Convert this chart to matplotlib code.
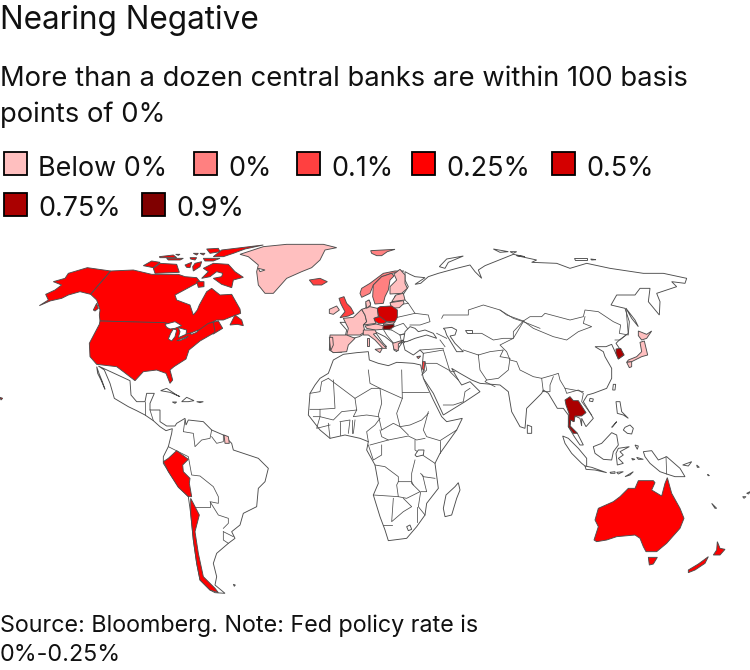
import matplotlib
matplotlib.use('Agg')
import matplotlib.pyplot as plt
from matplotlib.patches import Polygon, Rectangle

plt.rcParams['font.family'] = ['Inter', 'DejaVu Sans']

title = 'Nearing Negative'
subtitle = ['More than a dozen central banks are within 100 basis', 'points of 0%']
source = ['Source: Bloomberg. Note: Fed policy rate is', '0%-0.25%']

legend_labels = ['Below 0%', '0%', '0.1%', '0.25%', '0.5%', '0.75%', '0.9%']
legend_colors = ['#ffbfbf', '#ff8080', '#ff4040', '#ff0000', '#d40000', '#aa0000', '#7f0000']
rate = dict(zip(legend_labels, legend_colors))

Z1 = (0, 235)
Z2 = (300, 235)
Z3 = (500, 245)
Z4 = (100, 400)
Z5 = (300, 370)
Z6 = (560, 440)
Z8 = (540, 390)
Z9 = (320, 260)
Z10 = (95, 360)
Z11 = (400, 300)


def px(origin, pts):
    return [(origin[0] + a / 3, origin[1] + b / 3) for a, b in pts]


eurasia = (
    px(Z2, [(88,345),(90,305),(135,307),(140,285),(120,262),(150,262),(170,245),(190,225),(198,218),(198,205),(205,195),
            (212,205),(208,218),(233,222),(275,213),(272,205),(280,198),(285,183),(310,178),(325,155),(315,135),(315,110),
            (330,118),(345,125),(375,128),(345,148),(362,145),(385,125),(415,115),(470,100),(510,90),(525,110),(545,130),
            (535,105),(555,92),(590,78),(640,58),(675,65)])
    + px(Z3, [(50,32),(110,45),(95,52),(170,55),(210,70),(260,55),(330,70),(430,85),(490,85),(560,100),(555,115),(515,110),(530,125),
              (470,145),(480,170),(478,210),(445,170),(450,130),(420,130),(405,150),(350,150),(333,180),(375,190),(388,230),
              (385,265),(358,285),(348,295),(372,330),(355,342),(345,320),(335,298),(318,305),(285,305),(310,320),(315,335),
              (335,370),(335,400),(320,430),(280,445),(262,450),(250,470),(280,520),(258,545),(245,520)])
    + px(Z8, [(125,108),(120,85),(105,78),(102,95),(92,90),(90,108),(112,130),(130,165),(120,165),(103,140),(85,110),(85,75),
              (70,55),(52,55),(25,10),(10,0)])
    + px(Z3, [(125,445),(80,490),(75,550),(60,545),(35,500),(25,440)])
    + px(Z5, [(625,65),(600,45),(540,40),(515,30),(480,10),(455,-5),(475,30),(485,45),(510,35),(540,65),(495,95),(430,135),
              (400,70),(370,25)])
    + px(Z11, [(65,225),(72,212),(68,185),(70,160),(60,150),(40,165),(15,150),(10,130)])
    + px(Z2, [(320,315),(310,318),(298,335),(290,350),(282,345),(280,325),(255,305),(225,290),(250,325),(260,335),(248,335),
              (225,310),(205,295),(195,295),(178,305),(150,312),(130,335),(125,352),(100,352)])
)

africa = (
    px(Z2, [(362,390),(340,385),(310,383),(290,382),(265,392),(235,385),(208,375),(205,350),(170,353),(130,358),(100,375),
            (85,415),(60,430),(45,450)])
    + px(Z5, [(30,70),(25,135),(60,180),(90,205),(135,195),(180,205),(205,215),(200,240),(225,285),(235,340),(220,375),
              (240,440),(255,480),(265,512),(320,505),(350,470),(375,435),(380,400),(415,355),(405,280),(420,250),(470,180),
              (487,145),(440,155),(425,140),(400,90),(370,25)])
)

latin_america = (
    px(Z10, [(10,18),(28,30),(45,70),(58,115),(100,140),(125,152),(150,165),(175,182),(195,200),(213,212),(232,206)])
    + px(Z4, [(215,100),(205,140),(190,170),(190,190),(235,260),(265,290),(272,340),(280,420),(290,490),(300,540),(330,570),
              (345,578),(375,580),(345,555),(350,530),(340,490),(350,460),(385,430),(405,415),(395,395),(420,375),(430,340),
              (470,320),(475,265),(495,245),(505,205),(475,175),(415,155),(400,150),(395,130),(370,105),(335,90),(310,65),
              (265,60),(258,75),(255,55),(230,70)])
    + px(Z10, [(240,198),(215,198),(195,185),(195,150),(165,150),(165,130),(178,100),(155,100),(150,125),(125,125),(108,105),(105,62)])
)

white_land = [
    eurasia, africa, latin_america,
    px(Z10, [(5,20),(12,40),(22,65),(30,88),(18,60),(8,40)]),  # baja
    px(Z10, [(197,92),(215,85),(245,105),(255,110),(225,97)]),  # cuba
    px(Z10, [(260,125),(275,112),(297,122),(280,125)]),
    px(Z10, [(232,126),(245,126),(240,130)]),
    px(Z10, [(305,125),(325,125),(315,128)]),
    px(Z5, [(475,338),(480,360),(470,385),(455,435),(435,440),(430,415),(438,375),(465,350)]),  # madagascar
    px(Z3, [(378,190),(405,225),(415,245),(395,220)]),  # sakhalin
    px(Z3, [(340,418),(347,418),(345,435),(338,435)]),
    px(Z3, [(270,460),(280,462),(278,470),(268,468)]),
    px(Z3, [(82,540),(95,545),(95,565),(82,565)]),  # sri lanka
    px(Z3, [(222,40),(260,40),(260,46),(225,46)]),
    px(Z3, [(272,42),(288,44),(275,45)]),
    px(Z2, [(418,95),(440,72),(490,63),(445,82),(435,100)]),  # novaya zemlya
    px(Z2, [(580,42),(625,50),(600,52)]),
    px(Z2, [(630,50),(650,50),(640,55)]),
    px(Z8, [(68,138),(85,145),(115,175),(140,205),(140,232),(125,220),(95,190),(75,160)]),  # sumatra
    px(Z8, [(135,228),(155,232),(200,248),(165,240),(138,238)]),
    px(Z8, [(160,170),(185,160),(215,128),(230,135),(235,165),(220,185),(215,210),(190,208),(165,190)]),  # borneo
    px(Z8, [(235,175),(268,170),(240,185),(250,195),(235,205),(250,220),(232,225),(228,190)]),
    px(Z8, [(228,35),(240,35),(245,65),(265,85),(250,75),(232,70)]),
    px(Z8, [(255,112),(270,105),(280,115),(275,132),(262,130),(250,120)]),
    px(Z8, [(215,112),(230,95),(218,110)]),
    px(Z6, [(250,35),(275,32),(295,60),(320,50),(360,85),(375,110),(345,110),(320,102),(300,95),(270,70),(255,50)]),  # new guinea
    px(Z6, [(150,97),(165,95),(165,100),(152,100)]),
    px(Z6, [(170,97),(190,95),(175,102)]),
    px(Z6, [(195,110),(220,95),(210,105)]),
    px(Z6, [(225,15),(235,18),(232,28)]),
    px(Z6, [(230,52),(250,58),(235,58)]),
    px(Z6, [(215,55),(225,58),(218,60)]),
    px(Z6, [(368,75),(395,65),(385,78)]),
    px(Z6, [(410,75),(418,82),(412,82)]),
    px(Z6, [(443,103),(448,107),(444,107)]),
    px(Z6, [(455,190),(470,205),(465,205)]),
    px(Z6, [(548,170),(558,170),(552,175)]),
    px(Z6, [(560,160),(570,155),(566,162)]),
    px(Z4, [(400,553),(406,555),(403,559)]),
]

great_lakes = [
    px(Z1, [(495,268),(525,260),(545,272),(525,280),(510,282),(500,277)]),
    px(Z1, [(520,282),(530,285),(525,305),(515,318),(505,312),(512,295)]),
    px(Z1, [(535,278),(560,285),(558,298),(535,308),(540,290)]),
    px(Z1, [(530,317),(565,303),(560,308),(540,317)]),
    px(Z1, [(570,295),(595,285),(590,292),(575,298)]),
]

inland_water = [
    px(Z11, [(130,85),(155,82),(170,90),(165,105),(150,108),(165,130),(190,155),(170,155),(155,130),(140,105),(135,90)]),  # caspian
    px(Z11, [(195,90),(215,90),(215,100),(200,100)]),
    px(Z11, [(15,95),(30,80),(45,85),(55,95),(75,90),(100,100),(110,115),(80,105),(45,115),(20,125),(10,125)]),  # black sea
    px(Z5, [(345,255),(355,240),(372,240),(370,255),(350,260)]),
    px(Z5, [(320,470),(330,465),(335,478),(325,482)]),
    px(Z1, [(775,100),(795,105),(780,110)]),
]

borders = [
    # africa
    px(Z5, [(30,70),(60,65),(65,35),(85,25)]),
    px(Z5, [(85,25),(165,85),(170,120)]),
    px(Z5, [(100,30),(105,115),(60,118),(30,118)]),
    px(Z5, [(60,118),(60,140),(100,150),(125,125),(170,120)]),
    px(Z5, [(205,0),(210,40),(240,55),(245,100),(235,135),(245,180)]),
    px(Z5, [(165,85),(215,55),(240,55),(307,85)]),
    px(Z5, [(305,0),(307,85),(290,130),(300,170),(325,195)]),
    px(Z5, [(307,67),(385,67)]),
    px(Z5, [(170,120),(160,140),(200,135),(235,140)]),
    px(Z5, [(165,150),(160,190)]),
    px(Z5, [(240,145),(225,165),(200,185),(205,215)]),
    px(Z5, [(240,180),(245,200),(265,210),(210,225)]),
    px(Z5, [(245,180),(280,160),(300,170),(330,165),(365,150),(385,130)]),
    px(Z5, [(265,210),(325,198),(350,210),(375,205)]),
    px(Z5, [(385,125),(370,180),(380,200),(420,212),(470,180)]),
    px(Z5, [(420,212),(420,250)]),
    px(Z5, [(345,210),(345,240),(405,280)]),
    px(Z5, [(225,285),(255,290),(295,320),(295,335),(335,335),(340,345)]),
    px(Z5, [(220,375),(295,380),(290,345),(295,335)]),
    px(Z5, [(295,380),(320,385),(360,365),(335,340),(335,310),(345,270)]),
    px(Z5, [(405,325),(370,320),(362,310)]),
    px(Z5, [(368,315),(375,345),(380,365),(362,365),(355,410),(375,435)]),
    px(Z5, [(280,385),(275,455),(310,425),(335,410),(310,385)]),
    px(Z5, [(250,465),(275,465)]),
    px(Z5, [(350,410),(350,455)]),
    px(Z5, [(40,140),(60,140),(50,175),(90,165)]),
    px(Z5, [(85,160),(90,205)]),
    px(Z5, [(120,155),(120,195)]),
    px(Z5, [(145,190),(150,150),(120,155)]),
    px(Z5, [(155,150),(155,190)]),
    px(Z5, [(205,225),(220,270),(245,255),(245,225)]),
    px(Z5, [(430,105),(460,105),(490,95),(495,65),(510,55)]),
    # middle east and central asia
    px(Z11, [(125,55),(130,45),(205,45),(205,30),(250,15),(300,30),(340,55),(370,65),(420,85)]),
    px(Z11, [(205,100),(245,100),(280,120),(310,115),(340,115),(370,65)]),
    px(Z11, [(190,150),(235,165),(270,155),(310,150),(300,170),(330,175),(325,210),(295,235),(260,240),(240,210),(235,165)]),
    px(Z11, [(260,240),(255,245),(285,260)]),
    px(Z11, [(130,150),(150,215),(175,240)]),
    px(Z11, [(60,150),(130,145)]),
    px(Z11, [(70,160),(130,150)]),
    px(Z11, [(75,190),(110,190),(155,215),(165,215)]),
    px(Z11, [(75,185),(80,210),(65,225)]),
    px(Z11, [(110,100),(140,115)]),
    px(Z11, [(120,120),(135,140)]),
    # east asia
    px(Z3, [(0,195),(20,210),(70,228),(90,215),(125,215),(135,205),(210,225),(250,215),(255,195),(295,200),(340,230),(362,240),(358,265),(385,270),(378,190)]),
    px(Z3, [(70,228),(100,250),(160,275),(200,285),(235,260),(275,245),(250,235),(255,215)]),
    px(Z3, [(70,228),(40,260),(40,280),(0,300),(20,320),(30,345),(50,350),(60,375),(100,395),(125,400),(160,390),(175,385),(180,405),(195,430),(250,440)]),
    px(Z3, [(378,270),(360,285),(345,285)]),
    px(Z3, [(125,400),(130,440),(150,440),(150,420),(160,395)]),
    px(Z3, [(195,430),(200,445),(235,435),(250,445),(245,470),(275,510)]),
    # europe, east of the coloured block
    px(Z9, [(255,120),(265,130),(285,160),(325,165),(330,185),(300,195),(270,195)]),
    px(Z9, [(232,135),(265,130)]),
    px(Z9, [(232,172),(285,160)]),
    px(Z9, [(222,200),(250,190),(270,215),(240,225),(215,210)]),
    px(Z9, [(240,225),(272,220)]),
    px(Z9, [(240,225),(245,248),(272,240)]),
    px(Z9, [(190,208),(215,210)]),
    px(Z9, [(245,248),(225,255),(200,225),(190,208)]),
    # south america
    px(Z4, [(255,60),(250,95),(280,100),(285,140),(305,120),(330,115),(335,90)]),
    px(Z4, [(205,140),(235,155),(265,170),(275,225),(300,228),(340,260),(355,290),(355,310),(330,305),(355,345),(385,355),(385,370),(370,385)]),
    px(Z4, [(275,320),(330,320),(330,305)]),
    px(Z4, [(370,395),(400,410)]),
    px(Z4, [(370,395),(370,420),(385,430)]),
    px(Z4, [(335,110),(350,130),(370,125),(370,105)]),
    # central america
    px(Z10, [(150,125),(150,165)]),
    px(Z10, [(165,150),(175,182)]),
    # new guinea
    px(Z6, [(318,50),(320,102)]),
]

greenland = px(Z1, [(720,58),(790,35),(860,28),(970,28),(1010,38),(975,45),(960,75),(935,98),(905,110),(860,130),(820,175),(795,175),(775,150),(770,110),(775,90),(745,65)])
iceland = px(Z1, [(928,135),(960,130),(982,140),(965,150),(940,150)])

colored = [
    ('Below 0%', greenland),
    ('0.1%', iceland),
    ('0%', px(Z2, [(212,47),(285,43),(262,50),(245,62),(230,62),(215,55)])),
    # europe
    ('0%', px(Z9, [(120,100),(125,112),(150,100),(160,75),(185,50),(215,40),(252,33),(225,33),(190,40),(150,70),(125,85)])),
    ('0%', px(Z9, [(160,75),(185,50),(215,40),(222,48),(210,60),(205,90),(195,110),(190,130),(165,132),(158,110)])),
    ('Below 0%', px(Z9, [(222,42),(240,28),(255,45),(255,70),(262,85),(245,100),(210,102),(210,80),(230,60)])),
    ('Below 0%', px(Z9, [(228,105),(250,100),(255,120),(215,125)])),
    ('Below 0%', px(Z9, [(210,128),(250,122),(252,130),(238,143),(215,145)])),
    ('0.1%', px(Z9, [(57,115),(72,110),(80,130),(92,142),(102,160),(85,168),(60,173),(75,155),(68,142),(62,130)])),
    ('Below 0%', px(Z9, [(28,148),(50,138),(58,150),(40,163),(28,160)])),
    ('Below 0%', px(Z9, [(70,175),(100,172),(125,148),(135,165),(140,185),(130,195),(135,215),(120,225),(95,225),(80,225),(85,205)])),
    ('Below 0%', px(Z9, [(30,225),(80,225),(105,235),(85,255),(80,275),(40,278),(30,270)])),
    ('Below 0%', px(Z9, [(28,232),(38,232),(40,255),(32,272)])),
    ('Below 0%', px(Z9, [(125,148),(150,140),(172,145),(175,170),(162,175),(168,190),(130,195),(140,185),(135,165)])),
    ('Below 0%', px(Z9, [(137,125),(148,120),(152,135),(140,145)])),
    ('0.5%', px(Z9, [(172,145),(180,140),(215,138),(232,150),(232,172),(225,185),(200,185),(180,178),(175,165)])),
    ('0.25%', px(Z9, [(162,175),(180,170),(200,185),(192,190),(175,190),(165,183)])),
    ('Below 0%', px(Z9, [(192,190),(225,185),(220,192),(190,195)])),
    ('0.9%', px(Z9, [(185,197),(222,193),(222,200),(210,208),(190,208)])),
    ('Below 0%', px(Z9, [(135,198),(168,192),(190,197),(188,208),(165,210),(140,205)])),
    ('Below 0%', px(Z9, [(130,210),(165,210),(170,220),(160,222),(190,255),(200,265),(188,265),(165,240),(145,225),(130,225)])),
    ('Below 0%', px(Z9, [(165,268),(187,265),(180,278)])),
    ('Below 0%', px(Z9, [(140,235),(147,235),(147,258),(140,258)])),
    ('Below 0%', px(Z9, [(218,250),(250,240),(235,252),(235,272),(222,268)])),
    ('0.1%', px(Z11, [(68,185),(75,185),(72,212),(66,205)])),
    ('0%', px(Z11, [(50,170),(62,168),(55,176)])),
    # north america
    ('0.25%', px(Z1, [(118,212),(145,195),(137,178),(165,165),(185,150),(160,140),(195,130),(205,115),(262,98),(332,108),(272,178),(240,170),(205,180),(185,190),(150,198)])),
    ('0.25%', px(Z1, [(332,108),(400,105),(455,118),(535,118),(555,125),(590,128),(600,140),(590,145),(525,180),(530,195),(570,210),(580,240),(592,225),(598,210),(620,170),(635,160),(660,180),(695,178),(720,222),(722,235),(695,245),(670,255),(650,255),(628,265),(655,258),(668,280),(640,297),(622,290),(590,290),(560,300),(555,295),(500,265),(300,258),(298,240),(300,225),(290,195),(272,178)])),
    ('0.25%', px(Z1, [(300,258),(495,263),(540,280),(555,298),(590,290),(625,265),(640,262),(645,290),(640,295),(600,318),(567,345),(558,372),(522,395),(510,405),(518,435),(510,445),(498,415),(470,405),(430,410),(405,437),(370,410),(350,395),(290,388),(270,365),(268,325),(298,268)])),
    ('0.25%', px(Z1, [(610,100),(640,85),(685,88),(705,110),(730,127),(700,135),(695,158),(665,148),(640,130),(665,125),(668,115),(650,110),(630,125),(605,130),(625,110)])),
    ('0.25%', px(Z1, [(590,140),(612,140),(612,155),(595,157)])),
    ('0.25%', px(Z1, [(460,100),(480,85),(530,88),(538,112),(465,115)])),
    ('0.25%', px(Z1, [(430,92),(455,78),(480,82),(460,98)])),
    ('0.25%', px(Z1, [(478,65),(520,60),(530,68),(480,68)])),
    ('0.25%', px(Z1, [(500,70),(550,70),(540,75),(505,75)])),
    ('0.25%', px(Z1, [(570,68),(590,68),(585,75),(572,72)])),
    ('0.25%', px(Z1, [(555,90),(575,82),(570,98),(560,97)])),
    ('0.25%', px(Z1, [(585,85),(605,80),(600,95),(580,108),(578,95)])),
    ('0.25%', px(Z1, [(610,70),(660,70),(640,78),(615,78)])),
    ('0.25%', px(Z1, [(640,65),(665,45),(790,30),(735,42),(700,55),(670,65)])),
    ('0.25%', px(Z1, [(620,42),(655,40),(660,50),(630,55)])),
    ('0.25%', px(Z1, [(580,55),(595,55),(590,60)])),
    ('0.25%', px(Z1, [(600,55),(615,55),(610,60)])),
    ('0.25%', px(Z1, [(527,58),(540,58),(535,61)])),
    ('0.25%', px(Z1, [(690,270),(705,240),(725,255),(730,272),(712,268)])),
    ('0.25%', px(Z1, [(280,225),(290,205),(295,220),(285,228)])),
    ('0.25%', px(Z1, [(0,487),(8,490),(3,495)])),
    # south america
    ('0.25%', px(Z4, [(190,185),(205,175),(230,152),(265,178),(248,195),(250,215),(270,235),(268,250),(275,290),(265,290),(235,262),(205,215)])),
    ('0.25%', px(Z4, [(272,295),(280,310),(298,345),(285,395),(295,460),(310,530),(345,565),(355,578),(330,570),(300,540),(290,490),(280,420),(272,340)])),
    ('Below 0%', px(Z4, [(372,105),(385,110),(388,130),(375,130)])),
    # asia and oceania
    ('Below 0%', px(Z3, [(415,258),(440,268),(455,258),(440,280),(425,285),(415,272)])),
    ('Below 0%', px(Z3, [(420,292),(433,288),(443,330),(425,335),(395,350),(380,352),(385,345),(410,335),(425,320)])),
    ('Below 0%', px(Z3, [(380,352),(395,350),(395,365),(388,368)])),
    ('0.75%', px(Z3, [(348,312),(362,310),(372,330),(355,342),(348,325)])),
    ('0.75%', px(Z8, [(75,30),(90,20),(100,32),(115,32),(138,68),(125,78),(105,78),(102,95),(92,90),(90,108),(112,130),(100,130),(85,110),(87,70),(78,45)])),
    ('0.25%', px(Z6, [(102,300),(115,260),(105,240),(115,205),(160,185),(180,170),(205,145),(225,145),(235,122),(280,122),(285,128),(275,150),(305,168),(315,130),(322,113),(335,160),(360,205),(372,235),(360,265),(320,310),(290,335),(258,335),(250,320),(240,295),(225,285),(170,290),(140,300),(110,305)])),
    ('0.25%', px(Z6, [(265,352),(292,352),(280,372),(268,375)])),
    ('0.25%', px(Z6, [(472,305),(480,325),(495,328),(480,345),(460,345),(470,330)])),
    ('0.25%', px(Z6, [(445,350),(435,370),(405,390),(385,398),(385,390),(415,372)])),
]

legend_x = [4, 194, 297, 412, 552, 4, 142]
legend_y = [152, 152, 152, 152, 152, 193, 193]

fig = plt.figure(figsize=(7.5, 6.7), dpi=100)
ax = fig.add_axes([0, 0, 1, 1])
ax.set_xlim(0, 750)
ax.set_ylim(670, 0)
ax.axis('off')

edge = '#4d4d4d'
for pts in white_land:
    ax.add_patch(Polygon(pts, closed=True, facecolor='white', edgecolor=edge, linewidth=0.65, zorder=2))
for pts in borders:
    ax.plot([p[0] for p in pts], [p[1] for p in pts], color=edge, linewidth=0.55, zorder=3)
for label, pts in colored:
    ax.add_patch(Polygon(pts, closed=True, facecolor=rate[label], edgecolor=edge, linewidth=0.65, zorder=4))
# lakes sit over everything else on the map
for pts in great_lakes + inland_water:
    ax.add_patch(Polygon(pts, closed=True, facecolor='white', edgecolor=edge, linewidth=0.65, zorder=5))

for x, y, label, color in zip(legend_x, legend_y, legend_labels, legend_colors):
    ax.add_patch(Rectangle((x, y), 23, 23, facecolor=color, edgecolor='black', linewidth=1.3, zorder=6))
    ax.text(x + 34, y + 23.5, label, fontsize=19.4, va='baseline', ha='left', color='#111111')

ax.text(0, 29, title, fontsize=22.7, va='baseline', ha='left', color='#111111')
ax.text(0, 86, subtitle[0], fontsize=19.7, va='baseline', ha='left', color='#111111')
ax.text(0, 122, subtitle[1], fontsize=19.7, va='baseline', ha='left', color='#111111')
ax.text(0, 632, source[0], fontsize=16.8, va='baseline', ha='left', color='#111111')
ax.text(0, 661, source[1], fontsize=16.8, va='baseline', ha='left', color='#111111')

fig.savefig('out.png', dpi=100)
